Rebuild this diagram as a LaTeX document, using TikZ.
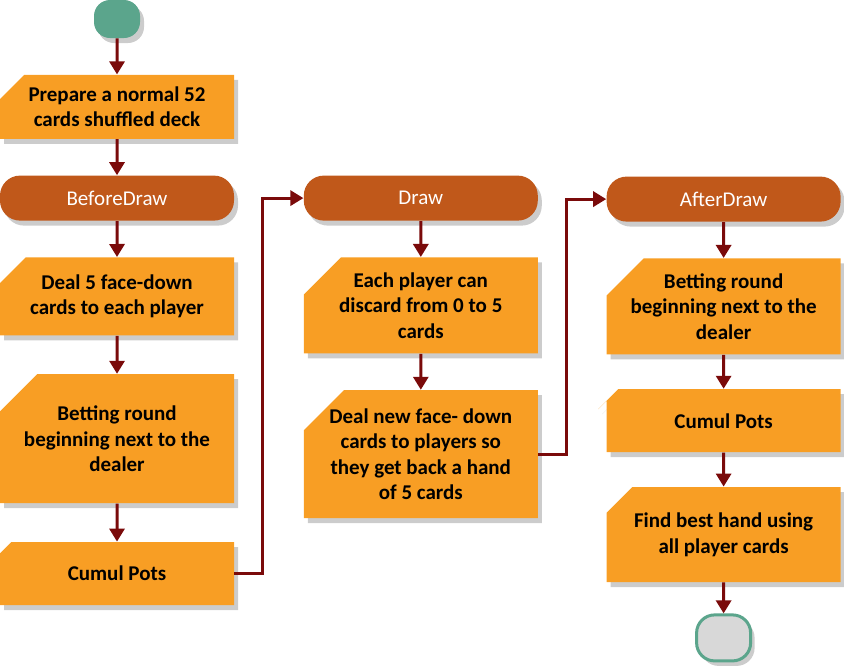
\documentclass[tikz,border=0pt]{standalone}
\usepackage{fontspec}
\setmainfont{Carlito}
\usetikzlibrary{arrows.meta,positioning,shapes.misc,shadows}
\definecolor{taskorange}{HTML}{F89E24}
\definecolor{phasebrown}{HTML}{C0581A}
\definecolor{termteal}{HTML}{5BA58C}
\definecolor{flowred}{HTML}{7A0A0A}
\definecolor{endgrey}{HTML}{D8D8D8}

\begin{document}
\begin{tikzpicture}[
  node distance=18pt,
  shd/.style={drop shadow={shadow xshift=2pt,shadow yshift=-2.5pt,fill=black!20,opacity=1}},
  task/.style={chamfered rectangle,chamfered rectangle corners=north west,
               chamfered rectangle xsep=10pt,chamfered rectangle ysep=10pt,
               fill=taskorange,shd,align=center,font=\bfseries\fontsize{10.5}{12.8}\selectfont,
               minimum width=117pt,inner sep=-8pt},
  phase/.style={rectangle,rounded corners=10pt,fill=phasebrown,shd,text=white,
                font=\fontsize{10.5}{12}\selectfont,minimum width=117pt,minimum height=22.5pt},
  term/.style={rectangle,rounded corners=8pt,minimum width=23pt,minimum height=19pt},
  flow/.style={->,draw=flowred,line width=1.5pt},
  >={Triangle[length=6.5pt,width=7.5pt]}]
\useasboundingbox (0,0) rectangle (422pt,-332.5pt);
% first column
\node[term,fill=termteal,shd] (start) at (58.5pt,-9.5pt) {};
\node[task,below=of start,minimum height=32pt] (prep) {Prepare a normal 52\\cards shuffled deck};
\node[phase,below=of prep] (bd) {BeforeDraw};
\node[task,below=of bd,minimum height=39pt] (deal) {Deal 5 face-down\\cards to each player};
\node[task,below=19pt of deal,minimum height=64.5pt] (bet) {Betting round\\beginning next to the\\dealer};
\node[task,below=19pt of bet,minimum height=31.5pt] (cum) {Cumul Pots};
% second column
\node[phase,right=34.5pt of bd] (dr) {Draw};
\node[task,below=of dr,minimum height=48pt] (disc) {Each player can\\discard from 0 to 5\\cards};
\node[task,below=of disc,minimum height=64pt] (new) {Deal new face- down\\cards to players so\\they get back a hand\\of 5 cards};
% third column
\node[phase,right=34pt of dr,yshift=-0.5pt] (ad) {AfterDraw};
\node[task,below=of ad,minimum height=48pt] (bet2) {Betting round\\beginning next to the\\dealer};
\node[task,below=17pt of bet2,minimum height=31.5pt] (cum2) {Cumul Pots};
\node[task,below=17pt of cum2,minimum height=47.5pt] (best) {Find best hand using\\all player cards};
\node[term,below=15.5pt of best,minimum width=27pt,minimum height=23pt,rounded corners=9pt,
      fill=endgrey,draw=termteal,line width=1.5pt,shd] (stop) {};
\draw[flow] (start) -- (prep);
\draw[flow] (prep) -- (bd);
\draw[flow] (bd) -- (deal);
\draw[flow] (deal) -- (bet);
\draw[flow] (bet) -- (cum);
\draw[flow] (cum.east) -- ++(14pt,0) |- (dr.west);
\draw[flow] (dr) -- (disc);
\draw[flow] (disc) -- (new);
\draw[flow] (new.east) -- ++(14pt,0) |- (ad.west);
\draw[flow] (ad) -- (bet2);
\draw[flow] (bet2) -- (cum2);
\draw[flow] (cum2) -- (best);
\draw[flow] (best) -- (stop);
\end{tikzpicture}
\end{document}
